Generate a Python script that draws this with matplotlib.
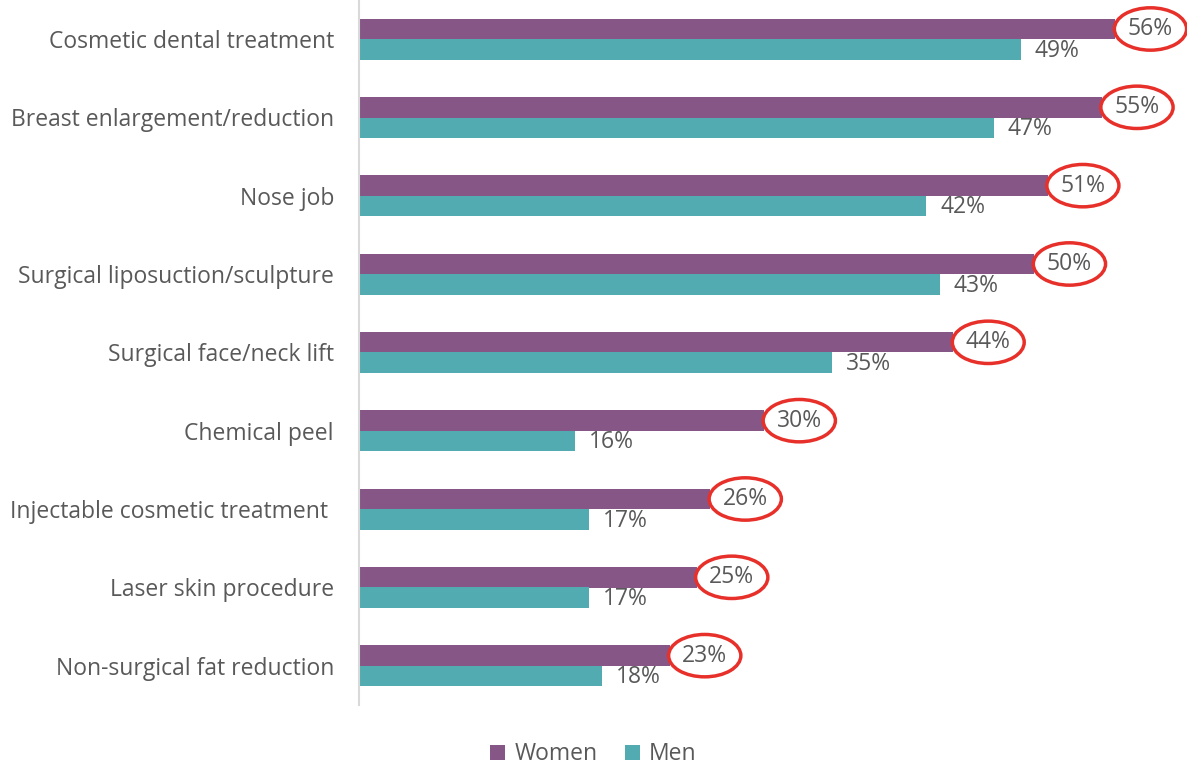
import matplotlib.pyplot as plt
import numpy as np

categories = ['Cosmetic dental treatment', 'Breast enlargement/reduction', 'Nose job',
              'Surgical liposuction/sculpture', 'Surgical face/neck lift', 'Chemical peel',
              'Injectable cosmetic treatment ', 'Laser skin procedure', 'Non-surgical fat reduction']
women = [56, 55, 51, 50, 44, 30, 26, 25, 23]
men = [49, 47, 42, 43, 35, 16, 17, 17, 18]

purple = '#865687'
teal = '#52ABB0'
grey = '#595959'

plt.rcParams['font.family'] = ['Open Sans', 'DejaVu Sans']

fig = plt.figure(figsize=(11.87, 7.64), dpi=100)
ax = fig.add_axes([359 / 1187, 59 / 764, 1 - 359 / 1187, 705 / 764])

y = np.arange(len(categories))
h = 0.26
ax.barh(y - h / 2, women, height=h, color=purple, label='Women')
ax.barh(y + h / 2, men, height=h, color=teal, label='Men')

# women values get a red ring, men plain
for i in range(len(categories)):
    ax.annotate(f'{women[i]}%', (women[i], y[i] - h / 2), xytext=(9, 0),
                textcoords='offset points', ha='left', va='center', fontsize=16.5, color=grey,
                bbox=dict(boxstyle='ellipse,pad=0.13', fc='none', ec='#E8302A', lw=2.5))
    ax.annotate(f'{men[i]}%', (men[i], y[i] + h / 2), xytext=(10, -1),
                textcoords='offset points', ha='left', va='center', fontsize=16.5, color=grey)

ax.set_ylim(len(categories) - 0.5, -0.5)
ax.set_xlim(0, 61.3)
ax.set_yticks(y)
ax.set_yticklabels(categories, fontsize=16.5, color=grey)
ax.tick_params(axis='y', length=0, pad=18)
ax.set_xticks([])
for s in ['top', 'right', 'bottom']:
    ax.spines[s].set_visible(False)
ax.spines['left'].set_color('#D9D9D9')
ax.spines['left'].set_linewidth(1.5)

fig.legend(loc='lower center', bbox_to_anchor=(0.5, -0.03), ncol=2, frameon=False,
           fontsize=16.5, labelcolor=grey, handlelength=0.65, handleheight=0.65,
           handletextpad=0.4, columnspacing=1.2)

fig.savefig('out.png', dpi=100)
